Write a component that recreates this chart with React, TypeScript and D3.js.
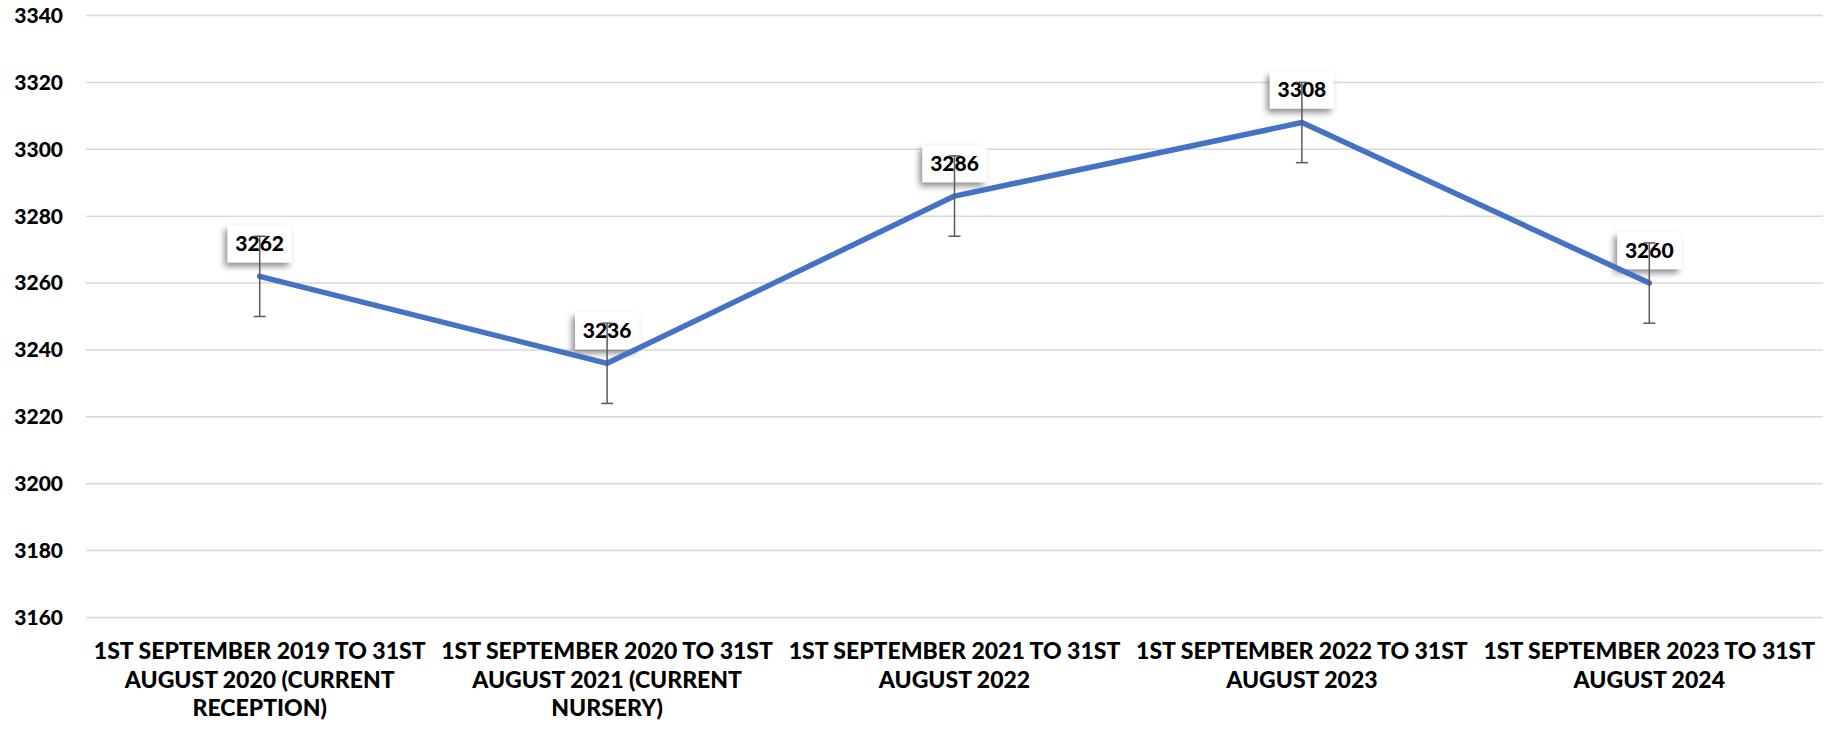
import React from "react";
import * as d3 from "d3";

const categories: string[][] = [
  ["1ST SEPTEMBER 2019 TO 31ST", "AUGUST 2020 (CURRENT", "RECEPTION)"],
  ["1ST SEPTEMBER 2020 TO 31ST", "AUGUST 2021 (CURRENT", "NURSERY)"],
  ["1ST SEPTEMBER 2021 TO 31ST", "AUGUST 2022"],
  ["1ST SEPTEMBER 2022 TO 31ST", "AUGUST 2023"],
  ["1ST SEPTEMBER 2023 TO 31ST", "AUGUST 2024"],
];
const values: number[] = [3262, 3236, 3286, 3308, 3260];
const errorAmount: number[] = [12, 12, 12, 12, 12];
const yTicks: number[] = [3160, 3180, 3200, 3220, 3240, 3260, 3280, 3300, 3320, 3340];

const W = 1828;
const H = 731;
const FONT = "Lato, 'Open Sans', sans-serif";

export default function App() {
  const plotLeft = 86;
  const plotRight = 1823;
  const x = d3
    .scalePoint<number>()
    .domain(values.map((_, i) => i))
    .range([plotLeft, plotRight])
    .padding(0.5);
  const y = d3.scaleLinear().domain([3160, 3340]).range([617.5, 15.5]);

  const line = d3
    .line<number>()
    .x((_, i) => x(i)!)
    .y((d) => y(d));

  const boxW = 64;
  const boxH = 37;

  return (
    <svg
      width={W}
      height={H}
      style={{ position: "absolute", left: 0, top: 0, background: "#fff" }}
      fontFamily={FONT}
    >
      <defs>
        <filter id="shadow" x="-30%" y="-30%" width="160%" height="170%">
          <feDropShadow dx={-3} dy={4} stdDeviation={3} floodColor="#000" floodOpacity={0.45} />
        </filter>
      </defs>
      <rect x={0} y={0} width={W} height={H} fill="#fff" />
      {yTicks.map((t) => (
        <line
          key={t}
          x1={plotLeft}
          x2={plotRight}
          y1={y(t)}
          y2={y(t)}
          stroke="#d9d9d9"
          strokeWidth={1.5}
        />
      ))}
      {yTicks.map((t) => (
        <text
          key={"l" + t}
          x={63}
          y={y(t)}
          dy="0.35em"
          textAnchor="end"
          fontSize={21}
          fontWeight={900}
          fill="#000"
        >
          {t}
        </text>
      ))}
      {categories.map((lines, i) => (
        <text
          key={"x" + i}
          x={x(i)}
          y={651}
          textAnchor="middle"
          fontSize={23}
          fontWeight={900}
          fill="#000"
        >
          {lines.map((ln, j) => (
            <tspan key={j} x={x(i)} y={651 + j * 28.7} dy="0.35em">
              {ln}
            </tspan>
          ))}
        </text>
      ))}
      {values.map((v, i) => {
        const cx = x(i)!;
        const bottom = y(v) - 14;
        return (
          <g key={"b" + i}>
            <rect
              x={cx - boxW / 2}
              y={bottom - boxH}
              width={boxW}
              height={boxH}
              fill="#fff"
              filter="url(#shadow)"
            />
            <text
              x={cx}
              y={bottom - boxH / 2}
              dy="0.35em"
              textAnchor="middle"
              fontSize={21}
              fontWeight={900}
              fill="#000"
            >
              {v}
            </text>
          </g>
        );
      })}
      <path
        d={line(values) || ""}
        fill="none"
        stroke="#4472C4"
        strokeWidth={5.5}
        strokeLinejoin="round"
        strokeLinecap="round"
      />
      {values.map((v, i) => {
        const cx = x(i)!;
        const top = y(v + errorAmount[i]);
        const bot = y(v - errorAmount[i]);
        return (
          <g key={"e" + i} stroke="#595959" strokeWidth={1.5}>
            <line x1={cx} x2={cx} y1={top} y2={bot} />
            <line x1={cx - 6} x2={cx + 6} y1={top} y2={top} />
            <line x1={cx - 6} x2={cx + 6} y1={bot} y2={bot} />
          </g>
        );
      })}
    </svg>
  );
}
